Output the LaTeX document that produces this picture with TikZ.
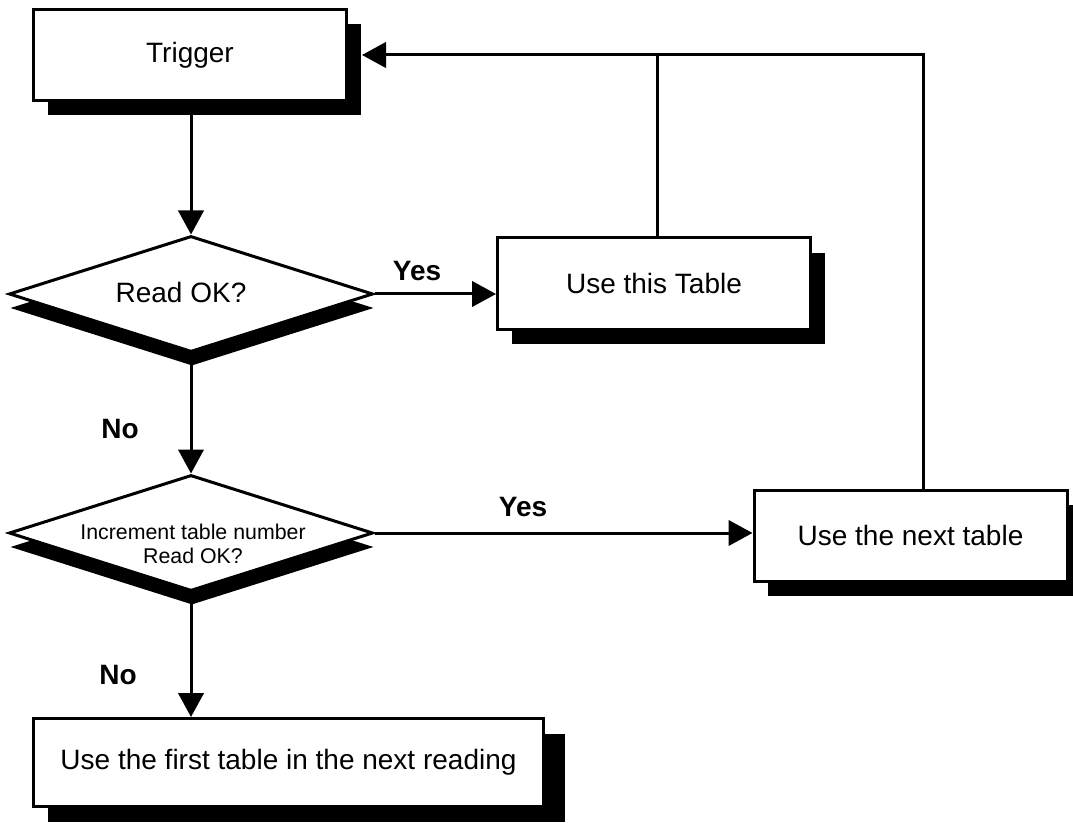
\documentclass[tikz,border=0pt]{standalone}
\usepackage{fontspec}
\setmainfont{Liberation Sans}
\usetikzlibrary{arrows.meta,shapes.geometric,shadows}
\begin{document}
\begin{tikzpicture}[x=0.75pt,y=-0.75pt,
  line width=2.25pt,
  flow/.style={-{Triangle[length=18pt,width=19pt]}},
  hardshadow/.style 2 args={drop shadow={shadow xshift=#1, shadow yshift=#2, opacity=1, fill=black}},
  stepbox/.style={draw, fill=white, rectangle, minimum width=234.75pt,
    minimum height=68.25pt, inner sep=0pt, font=\fontsize{21}{25}\selectfont,
    hardshadow={10.5pt}{-11.25pt}},
  decision/.style={draw, fill=white, diamond, minimum width=273pt,
    minimum height=87pt, inner sep=0pt, hardshadow={0.75pt}{-10.5pt}},
  qtext/.style={inner sep=0pt, align=center},
  answer/.style={font=\bfseries\fontsize{21}{25}\selectfont},
]
\useasboundingbox (0,0) rectangle (1073,823);
\clip (0,0) rectangle (1073,823);

% process boxes
\node[stepbox] (tr) at (190,55) {Trigger};
\node[stepbox] (ut) at (654,283.5) {Use this Table};
\node[stepbox] (nt) at (910.5,535.5) {Use the next table};
\node[stepbox, minimum width=382.5pt, minimum height=66pt,
      hardshadow={15.75pt}{-11.25pt}] (fb) at (288.5,762.5)
      {Use the first table in the next reading};

% decisions
\node[decision] (d1) at (191,294) {};
\node[qtext, font=\fontsize{21}{25}\selectfont] (q1) at (181,292) {Read OK?};
\node[decision] (d2) at (191,533) {};
\node[qtext, font=\fontsize{16}{18.5}\selectfont] (q2) at (193,544)
      {Increment table number\\Read OK?};

% answers
\node[answer] (yes1) at (417,271) {Yes};
\node[answer] (no1) at (120,429) {No};
\node[answer] (yes2) at (523,507) {Yes};
\node[answer] (no2) at (118,675) {No};

% main flow
\draw[flow] (tr.south -| d1.north) -- (d1.north);
\draw[flow] (d1.east) -- (d1.east -| ut.west);
\draw[flow] (d1.south) -- (d2.north);
\draw[flow] (d2.east) -- (d2.east -| nt.west);
\draw[flow] (d2.south) -- (d2.south |- fb.north);

% feedback to the trigger
\coordinate (corner) at (923,55);
\coordinate (join) at (657,55);
\draw (nt.north -| corner) -- (corner) -- (join);
\draw (ut.north -| join) -- (join);
\draw[flow] (join) -- ([xshift=10.5pt]tr.east);
\end{tikzpicture}
\end{document}
